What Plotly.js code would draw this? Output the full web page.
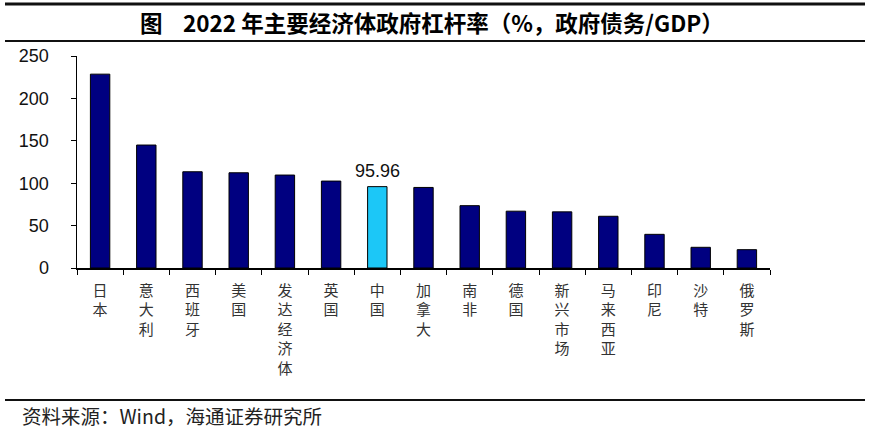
<!DOCTYPE html>
<html>
<head>
<meta charset="utf-8">
<script src="https://cdn.plot.ly/plotly-3.0.1.min.js"></script>
<style>
  html, body { margin: 0; padding: 0; background: #fff; }
  #chart { width: 870px; height: 432px; }
</style>
</head>
<body>
<div id="chart"></div>
<script>
// 2022年主要经济体政府杠杆率（%）
const economies = ['日本', '意大利', '西班牙', '美国', '发达经济体', '英国', '中国', '加拿大',
  '南非', '德国', '新兴市场', '马来西亚', '印尼', '沙特', '俄罗斯'];
const leverage = [228.6, 145.0, 113.5, 112.3, 109.6, 102.5, 95.96, 95.0,
  73.5, 67.0, 66.2, 61.0, 39.7, 24.4, 21.6];
const highlight = '中国';
const yTicks = [0, 50, 100, 150, 200, 250];

const navy = '#000080';
const cyan = '#1cc7f7';

// 竖排标签：每个字一行
const verticalLabels = economies.map(n => n.split('').join('<br>'));

const barColors = economies.map(n => (n === highlight ? cyan : navy));
const hi = economies.indexOf(highlight);

const trace = {
  type: 'bar',
  x: economies,
  y: leverage,
  marker: { color: barColors, line: { color: '#000', width: 1 } },
  hoverinfo: 'x+y'
};

// 像素 -> paper 坐标（绘图区 77..770, 56..268）
const px = v => (v - 77) / 693;
const py = v => (268 - v) / 212;

const layout = {
  width: 870,
  height: 432,
  margin: { l: 77, r: 100, t: 56, b: 164 },
  paper_bgcolor: '#fff',
  plot_bgcolor: '#fff',
  showlegend: false,
  bargap: 0.58,
  font: { family: 'Arial, "Liberation Sans", "Noto Sans CJK SC", sans-serif', color: '#111' },
  xaxis: {
    type: 'category',
    tickmode: 'array',
    tickvals: economies,
    ticktext: verticalLabels,
    tickson: 'boundaries',
    ticks: 'outside',
    ticklen: 5,
    tickcolor: '#000',
    ticklabelstandoff: 8,
    showline: true,
    linecolor: '#000',
    linewidth: 1.5,
    showgrid: false,
    tickangle: 0,
    tickfont: { family: '"Noto Sans CJK SC", sans-serif', size: 15, color: '#333' },
    fixedrange: true
  },
  yaxis: {
    range: [0, 250],
    tickmode: 'array',
    tickvals: yTicks,
    ticks: 'outside',
    ticklen: 5,
    tickcolor: '#000',
    ticklabelstandoff: 18,
    showline: true,
    linecolor: '#000',
    linewidth: 1.5,
    showgrid: false,
    zeroline: false,
    tickfont: { family: 'Arial, "Liberation Sans", sans-serif', size: 18, color: '#111' },
    fixedrange: true
  },
  annotations: [
    {
      x: economies[hi], y: leverage[hi], xref: 'x', yref: 'y',
      text: leverage[hi].toFixed(2), showarrow: false, yanchor: 'bottom', yshift: 4,
      font: { family: 'Arial, "Liberation Sans", sans-serif', size: 18, color: '#111' }
    },
    {
      x: px(432), y: py(22), xref: 'paper', yref: 'paper', xanchor: 'center', yanchor: 'middle',
      text: '<b>图&nbsp;&nbsp;&nbsp;&nbsp;2022 年主要经济体政府杠杆率（%，政府债务/GDP）</b>', showarrow: false,
      font: { family: '"Noto Sans CJK SC", Arial, sans-serif', size: 22.5, color: '#000' }
    },
    {
      x: px(20), y: py(415), xref: 'paper', yref: 'paper', xanchor: 'left', yanchor: 'middle',
      text: '资料来源：Wind，海通证券研究所', showarrow: false,
      font: { family: '"Noto Sans CJK SC", Arial, sans-serif', size: 19.5, color: '#222' }
    }
  ],
  shapes: [
    { type: 'line', xref: 'paper', yref: 'paper', x0: px(5), x1: px(865), y0: py(4), y1: py(4),
      line: { color: '#111', width: 3 } },
    { type: 'line', xref: 'paper', yref: 'paper', x0: px(5), x1: px(865), y0: py(41), y1: py(41),
      line: { color: '#111', width: 2 } },
    { type: 'line', xref: 'paper', yref: 'paper', x0: px(5), x1: px(865), y0: py(400), y1: py(400),
      line: { color: '#111', width: 2 } }
  ]
};

Plotly.newPlot('chart', [trace], layout, { displayModeBar: false, staticPlot: true });
</script>
</body>
</html>
